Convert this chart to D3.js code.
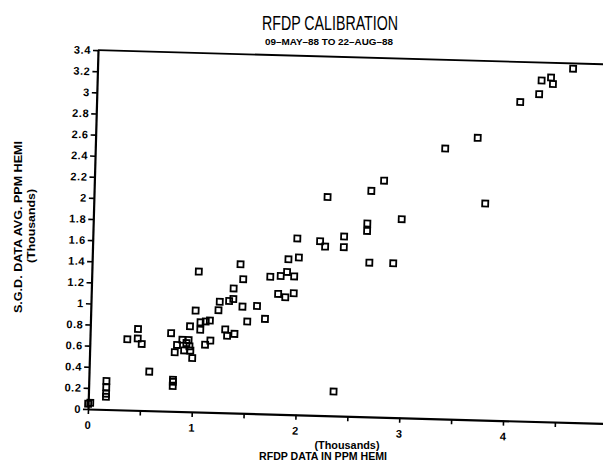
<!DOCTYPE html>
<html>
<head>
<meta charset="utf-8">
<script src="https://cdn.jsdelivr.net/npm/d3@7"></script>
<style>
  body { margin: 0; background: #fff; }
  text { font-family: "Liberation Sans", Arial, sans-serif; fill: #000; }
</style>
</head>
<body>
<div id="chart"></div>
<script>
// RFDP data (x) vs S.G.D. data (y), both in thousands of ppm
var rfdp = [0.00, 0.02, 0.17, 0.17, 0.17, 0.17, 0.36, 0.46, 0.46, 0.50, 0.58,
  0.78, 0.81, 0.81, 0.81, 0.82, 0.84, 0.89, 0.91, 0.93, 0.95, 0.97, 0.96, 0.99, 0.96,
  1.01, 1.03, 1.06, 1.11, 1.15, 1.06, 1.11, 1.16, 1.23, 1.24, 1.33, 1.37, 1.37, 1.30,
  1.32, 1.39, 1.43, 1.46, 1.46, 1.60, 1.51, 1.68, 1.72, 1.82, 1.88, 1.95, 1.80, 1.87,
  1.95, 1.89, 1.99, 1.97,
  2.19, 2.24, 2.25, 2.42, 2.42, 2.36, 2.64, 2.64, 2.67, 2.67, 2.79, 2.90, 2.97,
  3.37, 3.68, 3.77,
  4.08, 4.26, 4.28, 4.37, 4.39, 4.58];
var sgd = [0.05, 0.06, 0.27, 0.21, 0.15, 0.12, 0.67, 0.77, 0.68, 0.63, 0.37,
  0.74, 0.30, 0.28, 0.24, 0.56, 0.63, 0.68, 0.58, 0.65, 0.68, 0.58, 0.62, 0.51, 0.81,
  0.96, 1.33, 0.85, 0.86, 0.87, 0.78, 0.64, 0.68, 0.97, 1.05, 1.06, 1.08, 1.18, 0.79,
  0.73, 0.75, 1.41, 1.27, 1.01, 1.02, 0.87, 0.90, 1.30, 1.31, 1.35, 1.31, 1.14, 1.11,
  1.15, 1.47, 1.49, 1.67,
  1.65, 1.60, 2.07, 1.70, 1.60, 0.23, 1.83, 1.76, 1.46, 2.14, 2.24, 1.46, 1.88,
  2.56, 2.67, 2.05,
  3.02, 3.10, 3.23, 3.26, 3.20, 3.35];

var xTicks = [0, 0.5, 1, 1.5, 2, 2.5, 3, 3.5, 4, 4.5];
var xTickLabels = ["0", "", "1", "", "2", "", "3", "", "4", ""];
var yTicks = [0, 0.2, 0.4, 0.6, 0.8, 1, 1.2, 1.4, 1.6, 1.8, 2, 2.2, 2.4, 2.6, 2.8, 3, 3.2, 3.4];
var yTickLabels = ["0", "0.2", "0.4", "0.6", "0.8", "1", "1.2", "1.4", "1.6", "1.8",
  "2", "2.2", "2.4", "2.6", "2.8", "3", "3.2", "3.4"];

var width = 603,
  height = 463;

var svg = d3.select("#chart").append("svg")
  .attr("width", width)
  .attr("height", height);

var x = d3.scaleLinear().domain([0, 5]).range([0, 519]);
var y = d3.scaleLinear().domain([0, 3.4]).range([0, -359]);

// the scanned original sits slightly tilted on the page
var plot = svg.append("g")
  .attr("transform", "translate(88,409) rotate(1.6)");

var xAxis = plot.append("g")
  .call(d3.axisBottom(x)
    .tickValues(xTicks)
    .tickFormat(function(d, i) { return xTickLabels[i]; })
    .tickSize(5)
    .tickSizeOuter(0)
    .tickPadding(7));

var yAxis = plot.append("g")
  .call(d3.axisLeft(y)
    .tickValues(yTicks)
    .tickFormat(function(d, i) { return yTickLabels[i]; })
    .tickSize(5)
    .tickSizeOuter(0)
    .tickPadding(2));

plot.selectAll(".domain").attr("stroke-width", 2.2);
plot.selectAll(".tick line").attr("stroke-width", 1.6);
plot.selectAll(".tick text")
  .attr("font-size", 11)
  .attr("font-weight", "bold")
  .attr("letter-spacing", 0.6)
  .style("font-family", "'Liberation Sans', Arial, sans-serif");

// top border of the frame, running off the right edge like the scan
plot.append("line")
  .attr("x1", 0).attr("y1", y(3.4))
  .attr("x2", x(5.2)).attr("y2", y(3.4))
  .attr("stroke", "#000")
  .attr("stroke-width", 1.8);

plot.selectAll(".pt")
  .data(rfdp)
  .enter().append("rect")
  .attr("class", "pt")
  .attr("x", function(d) { return x(d) - 3; })
  .attr("y", function(d, i) { return y(sgd[i]) - 3; })
  .attr("width", 6)
  .attr("height", 6)
  .attr("fill", "none")
  .attr("stroke", "#000")
  .attr("stroke-width", 1.8);

// titles
svg.append("text")
  .attr("x", 330).attr("y", 30)
  .attr("text-anchor", "middle")
  .attr("font-size", 20)
  .attr("textLength", 136)
  .attr("lengthAdjust", "spacingAndGlyphs")
  .text("RFDP  CALIBRATION");

svg.append("text")
  .attr("x", 329).attr("y", 45)
  .attr("text-anchor", "middle")
  .attr("font-size", 9.5)
  .attr("font-weight", "bold")
  .attr("textLength", 128)
  .attr("lengthAdjust", "spacingAndGlyphs")
  .text("09\u2013MAY\u201388 TO 22\u2013AUG\u201388");

svg.append("text")
  .attr("x", 347).attr("y", 449)
  .attr("text-anchor", "middle")
  .attr("font-size", 10)
  .attr("font-weight", "bold")
  .attr("textLength", 65)
  .attr("lengthAdjust", "spacingAndGlyphs")
  .text("(Thousands)");

svg.append("text")
  .attr("x", 323).attr("y", 460)
  .attr("text-anchor", "middle")
  .attr("font-size", 10)
  .attr("font-weight", "bold")
  .attr("textLength", 128)
  .attr("lengthAdjust", "spacingAndGlyphs")
  .text("RFDP DATA IN PPM HEMI");

svg.append("text")
  .attr("transform", "translate(22,227) rotate(-90)")
  .attr("text-anchor", "middle")
  .attr("font-size", 10)
  .attr("font-weight", "bold")
  .attr("textLength", 172)
  .attr("lengthAdjust", "spacingAndGlyphs")
  .text("S.G.D.  DATA  AVG.  PPM  HEMI");

svg.append("text")
  .attr("transform", "translate(35,226) rotate(-90)")
  .attr("text-anchor", "middle")
  .attr("font-size", 10)
  .attr("font-weight", "bold")
  .attr("textLength", 74)
  .attr("lengthAdjust", "spacingAndGlyphs")
  .text("(Thousands)");
</script>
</body>
</html>
